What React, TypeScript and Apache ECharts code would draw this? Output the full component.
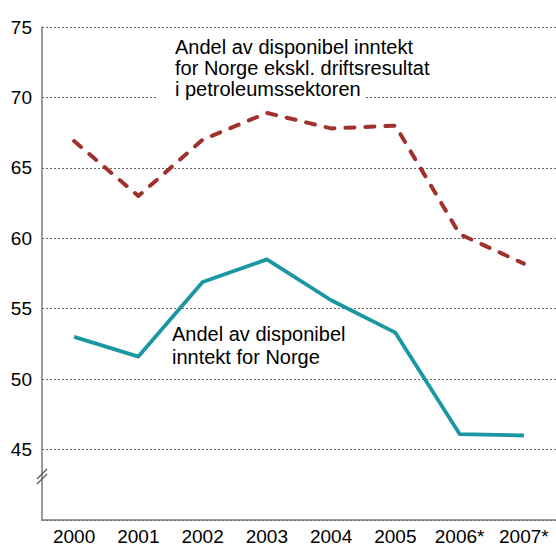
import React, { useEffect, useRef } from "react";
import * as echarts from "echarts";

const years = ["2000", "2001", "2002", "2003", "2004", "2005", "2006*", "2007*"];
const excludingPetroleum = [66.9, 63.0, 67.0, 68.9, 67.8, 68.0, 60.3, 58.2];
const norwayTotal = [53.0, 51.6, 56.9, 58.5, 55.6, 53.3, 46.1, 46.0];
const yTicks = [45, 50, 55, 60, 65, 70, 75];
const noteExcl = ["Andel av disponibel inntekt", "for Norge ekskl. driftsresultat", "i petroleumssektoren"];
const noteTotal = ["Andel av disponibel", "inntekt for Norge"];

const FONT = "'Liberation Sans', Arial, Helvetica, sans-serif";

export default function App() {
  const ref = useRef<HTMLDivElement>(null);
  useEffect(() => {
    if (!ref.current) return;
    const chart = echarts.init(ref.current, undefined, { renderer: "svg" });
    const textStyle = (t: string) => ({ text: t, font: `20px ${FONT}`, fill: "#000" });
    chart.setOption({
      animation: false,
      grid: { left: 42, right: 0, top: 27, bottom: 27, containLabel: false },
      xAxis: {
        type: "category",
        data: years,
        boundaryGap: true,
        axisLine: { lineStyle: { color: "#7a7a7a", width: 1.5 } },
        axisTick: { alignWithLabel: true, inside: true, length: 12, interval: 0, lineStyle: { color: "#7a7a7a", width: 1.5 } },
        axisLabel: { color: "#000", fontSize: 19, fontFamily: FONT, margin: 7, interval: 0, hideOverlap: false },
      },
      yAxis: {
        type: "value",
        min: 40,
        max: 75,
        interval: 5,
        axisLine: { show: true, lineStyle: { color: "#7a7a7a", width: 1.5 } },
        axisTick: { show: false },
        axisLabel: {
          color: "#000",
          fontSize: 19,
          fontFamily: FONT,
          margin: 10,
          formatter: (v: number) => (yTicks.includes(v) ? String(v) : ""),
        },
        splitLine: { show: true, lineStyle: { color: "#666", type: [2, 2], width: 1 } },
      },
      series: [
        {
          type: "line",
          data: excludingPetroleum,
          symbol: "none",
          z: 3,
          lineStyle: { color: "#a0312d", width: 4, type: [9, 11], cap: "round", join: "round" },
        },
        {
          type: "line",
          data: norwayTotal,
          symbol: "none",
          z: 3,
          lineStyle: { color: "#1a97a3", width: 3.8, join: "round" },
        },
      ],
      graphic: [
        { type: "rect", shape: { x: 158, y: 84, width: 206, height: 22 }, style: { fill: "#fff" }, z: 5 },
        { type: "text", left: 175, top: 37, z: 6, style: textStyle(noteExcl[0]) },
        { type: "text", left: 175, top: 58, z: 6, style: textStyle(noteExcl[1]) },
        { type: "text", left: 175, top: 79, z: 6, style: textStyle(noteExcl[2]) },
        { type: "text", left: 172, top: 324, z: 6, style: textStyle(noteTotal[0]) },
        { type: "text", left: 172, top: 347, z: 6, style: textStyle(noteTotal[1]) },
        { type: "line", z: 7, shape: { x1: 37, y1: 479, x2: 47, y2: 469 }, style: { stroke: "#555", lineWidth: 1.3 } },
        { type: "line", z: 7, shape: { x1: 37, y1: 484, x2: 47, y2: 474 }, style: { stroke: "#555", lineWidth: 1.3 } },
      ],
    });
    return () => chart.dispose();
  }, []);
  return <div ref={ref} style={{ width: 556, height: 547, position: "absolute", left: 0, top: 0 }} />;
}
